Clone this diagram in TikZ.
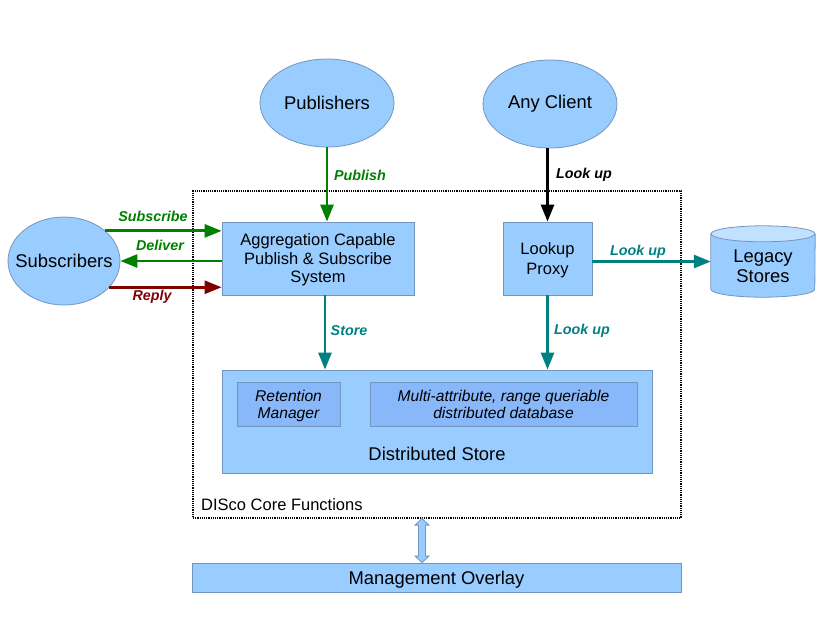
\documentclass[tikz,border=0pt]{standalone}
\usepackage{fontspec}
\setmainfont{Liberation Sans}
\usetikzlibrary{arrows.meta,shapes.geometric,calc}
\definecolor{lblue}{HTML}{99CCFF}
\definecolor{bcol}{HTML}{7396BE}
\definecolor{iblue}{HTML}{88B8FA}
\definecolor{ctop}{HTML}{C2E0FF}
\definecolor{pgreen}{HTML}{008000}
\definecolor{pteal}{HTML}{008080}
\definecolor{pred}{HTML}{800000}
\begin{document}
\begin{tikzpicture}[x=1pt,y=-1pt,
 ell/.style={ellipse,draw=bcol,fill=lblue,line width=0.8pt,inner sep=0pt,minimum width=134pt,minimum height=88pt,font=\fontsize{18.4}{22}\selectfont},
 box/.style={rectangle,draw=bcol,fill=lblue,line width=0.8pt,inner sep=0pt,align=center,text depth=0pt,font=\fontsize{16.5}{18.5}\selectfont},
 ibox/.style={rectangle,draw=bcol,fill=iblue,line width=0.8pt,inner sep=0pt,align=center,text depth=0pt,font=\fontsize{15.6}{17}\selectfont\itshape},
 conn/.style={line width=2.8pt,-{Triangle[length=17pt,width=13pt]}},
 lbl/.style={font=\fontsize{14.3}{16}\selectfont\bfseries\itshape,inner sep=0pt},
 txt/.style={font=\fontsize{18.4}{22}\selectfont,inner sep=0pt}
]
\useasboundingbox (0,0) rectangle (830,622);

% core frame
\node[draw=black,densely dotted,line width=1.2pt,minimum width=488pt,minimum height=327pt,inner sep=0pt] (core) at (437,354.5) {};
\node[font=\fontsize{16.5}{18}\selectfont,inner sep=0pt,anchor=west] (corelbl) at (201,505) {DISco Core Functions};

% ellipses
\node[ell] (pub) at (327,103) {\makebox[0pt]{Publishers}};
\node[ell] (client) at (550,104) {\makebox[0pt]{Any Client}};
\node[ell,minimum width=112pt,minimum height=88pt] (subs) at (64,261) {\makebox[0pt]{Subscribers}};

% boxes
\node[box,minimum width=192pt,minimum height=73pt] (agg) at (318,258.5) {Aggregation Capable\\Publish \& Subscribe\\System};
\node[box,minimum width=89pt,minimum height=73pt,font=\fontsize{16.5}{20}\selectfont] (proxy) at (547.5,258.5) {Lookup\\Proxy};
\node[box,minimum width=430pt,minimum height=103pt] (ds) at (437,421.5) {};
\node[txt] (dstext) at (437,454) {Distributed Store};
\node[ibox,minimum width=103pt,minimum height=44pt] (ret) at (288.5,404) {Retention\\Manager};
\node[ibox,minimum width=267pt,minimum height=44pt] (multi) at (503.5,404) {Multi-attribute, range queriable\\distributed database};
\node[box,minimum width=489pt,minimum height=29pt,font=\fontsize{18.4}{22}\selectfont] (mgmt) at (436.5,577.5) {Management Overlay};

% legacy stores cylinder
\node[minimum width=104pt,minimum height=71pt,inner sep=0pt] (legacy) at (763,261.5) {};
\fill[lblue] ([yshift=-8pt]legacy.north west) -- ([yshift=8pt]legacy.south west)
  arc[start angle=180,end angle=360,x radius=52pt,y radius=8pt] -- ([yshift=-8pt]legacy.north east) -- cycle;
\draw[bcol,line width=0.8pt] ([yshift=-8pt]legacy.north west) -- ([yshift=8pt]legacy.south west)
  arc[start angle=180,end angle=360,x radius=52pt,y radius=8pt] -- ([yshift=-8pt]legacy.north east);
\draw[bcol,fill=ctop,line width=0.8pt] ([yshift=-8pt]legacy.north) ellipse[x radius=52pt,y radius=8pt];
\node[font=\fontsize{18.4}{20.5}\selectfont,align=center,inner sep=0pt] (legtext) at ([yshift=-5pt]legacy.center) {Legacy\\Stores};

% connectors
\draw[conn,pgreen] (pub.south) -- (pub.south |- agg.north);
\node[lbl,text=pgreen] (lpub) at (360,175) {Publish};
\draw[conn,black] (proxy.north |- client.south) -- (proxy.north);
\node[lbl,text=black] (llook1) at (584,175) {Look up};

\draw[conn,pgreen] (subs.36) -- (subs.36 -| agg.west);
\node[lbl,text=pgreen] (lsub) at (153,216) {Subscribe};
\draw[conn,pgreen] (agg.west |- subs.east) -- (subs.east);
\node[lbl,text=pgreen] (ldel) at (160,245) {Deliver};
\draw[conn,pred] (subs.-30) -- (subs.-30 -| agg.west);
\node[lbl,text=pred] (lrep) at (152,297) {Reply};

\draw[conn,pteal] (proxy.east |- legacy.west) -- (legacy.west);
\node[lbl,text=pteal] (llook2) at (638,252) {Look up};

\draw[conn,pteal] ([xshift=7pt]agg.south) -- ([xshift=7pt]agg.south |- ds.north);
\node[lbl,text=pteal] (lstore) at (349,331) {Store};
\draw[conn,pteal] (proxy.south) -- (proxy.south |- ds.north);
\node[lbl,text=pteal] (llook3) at (582,331) {Look up};

% management double arrow
\coordinate (ua) at ([xshift=-15pt]core.south);
\coordinate (ub) at (ua |- mgmt.north);
\draw[bcol,fill=lblue,line width=0.8pt,line join=miter]
  ([xshift=-3.5pt,yshift=-6.5pt]ua) -- ([xshift=-7pt,yshift=-6.5pt]ua) -- (ua)
  -- ([xshift=7pt,yshift=-6.5pt]ua) -- ([xshift=3.5pt,yshift=-6.5pt]ua)
  -- ([xshift=3.5pt,yshift=6.5pt]ub) -- ([xshift=7pt,yshift=6.5pt]ub) -- (ub)
  -- ([xshift=-7pt,yshift=6.5pt]ub) -- ([xshift=-3.5pt,yshift=6.5pt]ub) -- cycle;
\end{tikzpicture}
\end{document}
